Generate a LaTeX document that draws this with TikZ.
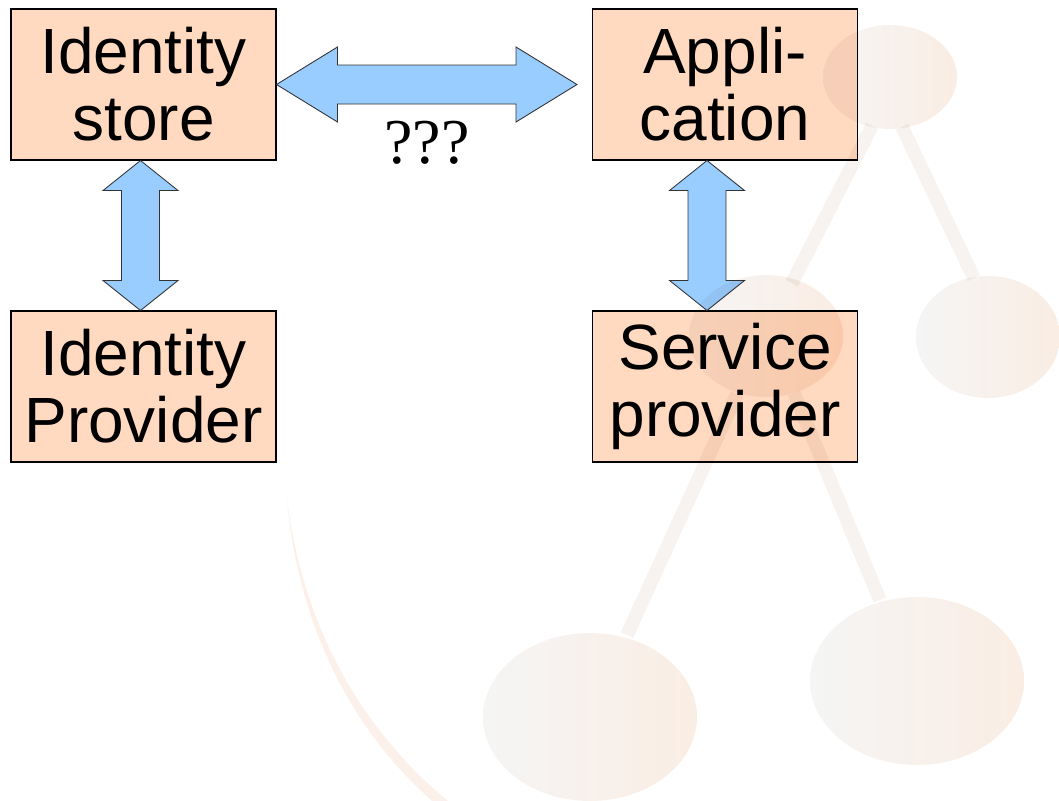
\documentclass[tikz,border=0pt]{standalone}
\usepackage{fontspec}
\setmainfont{Liberation Sans}
\newfontfamily\qfont{Liberation Serif}
\usepackage{tikz}
\usetikzlibrary{calc}

\definecolor{boxfill}{RGB}{255,217,192}
\definecolor{arrowfill}{RGB}{153,204,255}
\definecolor{wmgray}{RGB}{245,245,245}
\definecolor{wmpeach}{RGB}{250,237,227}
\definecolor{wmstick}{RGB}{246,243,240}
\definecolor{wmarc}{RGB}{251,241,234}

\tikzset{
	box/.style={draw=black, line width=0.6pt, fill=boxfill, minimum width=5.3cm, minimum height=3.02cm,
		inner sep=0pt, align=center, font=\fontsize{36.4}{38}\selectfont},
	barrow/.style={draw=black!80, line width=0.5pt, fill=arrowfill, line join=miter},
	wmball/.style={left color=wmgray, right color=wmpeach},
	wmline/.style={draw=wmstick, line width=0.27cm},
}

\begin{document}
\begin{tikzpicture}[x=0.02cm, y=-0.02cm]
	\useasboundingbox (0,0) rectangle (1059,801);

	% the four boxes
	\node[box] (idstore) at (143.5,84.5)  {Identity\\store};
	\node[box] (app)     at (725,84.5)    {Appli-\\cation};
	\node[box] (idp)     at (143.5,386.5) {Identity\\Provider};
	\node[box] (sp)      at (725,386.5)   {Service\\provider};

	% block arrows
	\coordinate (hl) at (idstore.east);
	\coordinate (hr) at ($(app.west)+(-15,0)$);
	\draw[barrow] (hl) -- ($(hl)+(61,-37.5)$) -- ($(hl)+(61,-19.5)$) -- ($(hr)+(-61,-19.5)$) -- ($(hr)+(-61,-37.5)$)
		-- (hr) -- ($(hr)+(-61,37.5)$) -- ($(hr)+(-61,19.5)$) -- ($(hl)+(61,19.5)$) -- ($(hl)+(61,37.5)$) -- cycle;

	\coordinate (lt) at ($(idstore.south)+(-3,0)$);
	\coordinate (lb) at ($(idp.north)+(-3,0)$);
	\draw[barrow] (lt) -- ($(lt)+(37.5,30)$) -- ($(lt)+(19,30)$) -- ($(lb)+(19,-30)$) -- ($(lb)+(37.5,-30)$)
		-- (lb) -- ($(lb)+(-37.5,-30)$) -- ($(lb)+(-19,-30)$) -- ($(lt)+(-19,30)$) -- ($(lt)+(-37.5,30)$) -- cycle;

	\coordinate (rt) at ($(app.south)+(-18,0)$);
	\coordinate (rb) at ($(sp.north)+(-18,0)$);
	\draw[barrow] (rt) -- ($(rt)+(37.5,30)$) -- ($(rt)+(19,30)$) -- ($(rb)+(19,-30)$) -- ($(rb)+(37.5,-30)$)
		-- (rb) -- ($(rb)+(-37.5,-30)$) -- ($(rb)+(-19,-30)$) -- ($(rt)+(-19,30)$) -- ($(rt)+(-37.5,30)$) -- cycle;

	\node[font=\qfont\fontsize{36.4}{38}\selectfont, inner sep=0pt] (qmarks) at (427,143) {???};

	% faint background tree
	\begin{scope}[blend mode=multiply]
		\fill[wmarc] (287,498) .. controls (301,612) and (350,722) .. (454,806) -- (438,806)
			.. controls (343,726) and (296,610) .. (287,498) -- cycle;
		\draw[wmline] (872,126) -- (792,283);
		\draw[wmline] (902,127) -- (974,278);
		\draw[wmline] (737,394) -- (627,635);
		\draw[wmline] (794,393) -- (880,600);
		\shade[wmball] (890,77)  ellipse [x radius=1.34cm, y radius=1.04cm];
		\shade[wmball] (766,336) ellipse [x radius=1.54cm, y radius=1.22cm];
		\shade[wmball] (988,337) ellipse [x radius=1.44cm, y radius=1.22cm];
		\shade[wmball] (590,717) ellipse [x radius=2.14cm, y radius=1.68cm];
		\shade[wmball] (917,681) ellipse [x radius=2.14cm, y radius=1.68cm];
	\end{scope}
\end{tikzpicture}
\end{document}
